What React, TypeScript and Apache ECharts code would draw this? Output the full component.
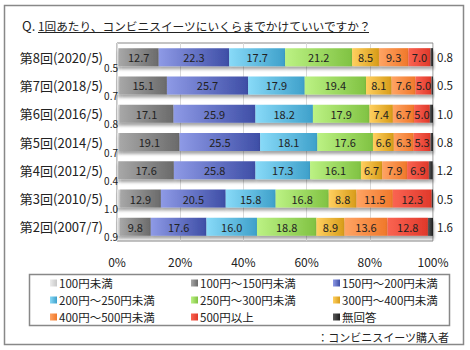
import React, { useEffect, useRef } from "react";
import * as echarts from "echarts";

const categories = ["第8回(2020/5)", "第7回(2018/5)", "第6回(2016/5)", "第5回(2014/5)", "第4回(2012/5)", "第3回(2010/5)", "第2回(2007/7)"];
const seriesNames = ["100円未満", "100円～150円未満", "150円～200円未満", "200円～250円未満", "250円～300円未満", "300円～400円未満", "400円～500円未満", "500円以上", "無回答"];
const under100 = [0.5, 0.7, 0.8, 0.7, 0.4, 1.0, 0.9];
const y100to150 = [12.7, 15.1, 17.1, 19.1, 17.6, 12.9, 9.8];
const y150to200 = [22.3, 25.7, 25.9, 25.5, 25.8, 20.5, 17.6];
const y200to250 = [17.7, 17.9, 18.2, 18.1, 17.3, 15.8, 16.0];
const y250to300 = [21.2, 19.4, 17.9, 17.6, 16.1, 16.8, 18.8];
const y300to400 = [8.5, 8.1, 7.4, 6.6, 6.7, 8.8, 8.9];
const y400to500 = [9.3, 7.6, 6.7, 6.3, 7.9, 11.5, 13.6];
const over500 = [7.0, 5.0, 5.0, 5.3, 6.9, 12.3, 12.8];
const noAnswer = [0.8, 0.5, 1.0, 0.8, 1.2, 0.5, 1.6];
const xTicks = [0, 20, 40, 60, 80, 100];

const seriesData = [under100, y100to150, y150to200, y200to250, y250to300, y300to400, y400to500, over500, noAnswer];
const gradients: [string, string][] = [
  ["#ececec", "#c8c8c8"],
  ["#a8a8a8", "#6a6a6a"],
  ["#8e9ae6", "#3e4ea6"],
  ["#88daf8", "#3ea0ca"],
  ["#bcf284", "#80c242"],
  ["#ffd060", "#d89c18"],
  ["#ffa464", "#f0782a"],
  ["#fa6452", "#e0382a"],
  ["#5a5a5a", "#1e1e1e"],
];

const FONT = "'Noto Sans CJK JP', sans-serif";

export default function App() {
  const ref = useRef<HTMLDivElement>(null);
  useEffect(() => {
    if (!ref.current) return;
    const chart = echarts.init(ref.current, undefined, { renderer: "svg" });
    const series = seriesData.map((data, i) => {
      const [c1, c2] = gradients[i];
      let label: any = {
        show: true,
        position: "inside",
        fontSize: 11,
        color: "#222",
        fontFamily: FONT,
        formatter: (p: any) => p.value.toFixed(1),
      };
      if (i === 0) {
        label = { ...label, position: "left", distance: 0, offset: [1, 10], fontSize: 10 };
      } else if (i === 8) {
        label = { ...label, position: "right", distance: 4, fontSize: 11.5 };
      }
      return {
        name: seriesNames[i],
        type: "bar",
        stack: "total",
        barWidth: 18,
        data,
        label,
        itemStyle: {
          color: new echarts.graphic.LinearGradient(0, 0, 1, 0, [
            { offset: 0, color: c1 },
            { offset: 1, color: c2 },
          ]),
          shadowColor: "rgba(0,0,0,0.35)",
          shadowBlur: 3,
          shadowOffsetX: 1,
          shadowOffsetY: 3,
        },
      };
    });
    const legendCol = (names: string[], left: number) => ({
      orient: "vertical",
      left,
      top: 276,
      data: names.map((n) => ({ name: n, icon: "rect" })),
      itemWidth: 7,
      itemHeight: 7,
      itemGap: 3,
      padding: 0,
      textStyle: { fontSize: 11.5, color: "#222", fontFamily: FONT, lineHeight: 14, padding: [0, 0, 0, -3] },
      selectedMode: false,
    });
    chart.setOption({
      animation: false,
      textStyle: { fontFamily: FONT },
      grid: { left: 117, right: 37, top: 43, bottom: 109, show: true, borderColor: "#888", borderWidth: 1 },
      xAxis: {
        type: "value",
        min: 0,
        max: 100,
        interval: 20,
        axisLabel: {
          formatter: (v: number) => (xTicks.includes(v) ? v + "%" : ""),
          fontSize: 12,
          color: "#222",
          margin: 14,
          fontFamily: FONT,
        },
        axisLine: { show: false },
        axisTick: { show: false },
        splitLine: { lineStyle: { color: "#d9d9d9" } },
      },
      yAxis: {
        type: "category",
        inverse: true,
        data: categories,
        axisLabel: { fontSize: 13, color: "#222", margin: 14, fontFamily: FONT },
        axisLine: { show: false },
        axisTick: { show: false },
      },
      legend: [
        legendCol([seriesNames[0], seriesNames[3], seriesNames[6]], 50),
        legendCol([seriesNames[1], seriesNames[4], seriesNames[7]], 191),
        legendCol([seriesNames[2], seriesNames[5], seriesNames[8]], 333),
      ],
      series,
      graphic: [
        { type: "rect", shape: { x: 4.5, y: 5.5, width: 459, height: 339 }, style: { fill: "none", stroke: "#888", lineWidth: 1.5 }, silent: true },
        { type: "rect", shape: { x: 29.5, y: 274.5, width: 420, height: 51 }, style: { fill: "none", stroke: "#888", lineWidth: 1.5 }, silent: true },
        { type: "text", x: 22, y: 25, style: { text: "Q.", fontSize: 13, fill: "#222", fontFamily: FONT, verticalAlign: "middle" } },
        { type: "text", x: 38, y: 25, style: { text: "1回あたり、コンビニスイーツにいくらまでかけていいですか？", fontSize: 11.7, fill: "#222", fontFamily: FONT, verticalAlign: "middle" } },
        { type: "line", shape: { x1: 38, y1: 32.5, x2: 369, y2: 32.5 }, style: { stroke: "#222", lineWidth: 1 } },
        { type: "text", x: 449, y: 337, style: { text: "：コンビニスイーツ購入者", fontSize: 11, fill: "#222", fontFamily: FONT, align: "right", verticalAlign: "middle" } },
      ],
    });
    return () => chart.dispose();
  }, []);
  return <div ref={ref} style={{ position: "fixed", left: 0, top: 0, width: 470, height: 350, background: "#fff" }} />;
}
